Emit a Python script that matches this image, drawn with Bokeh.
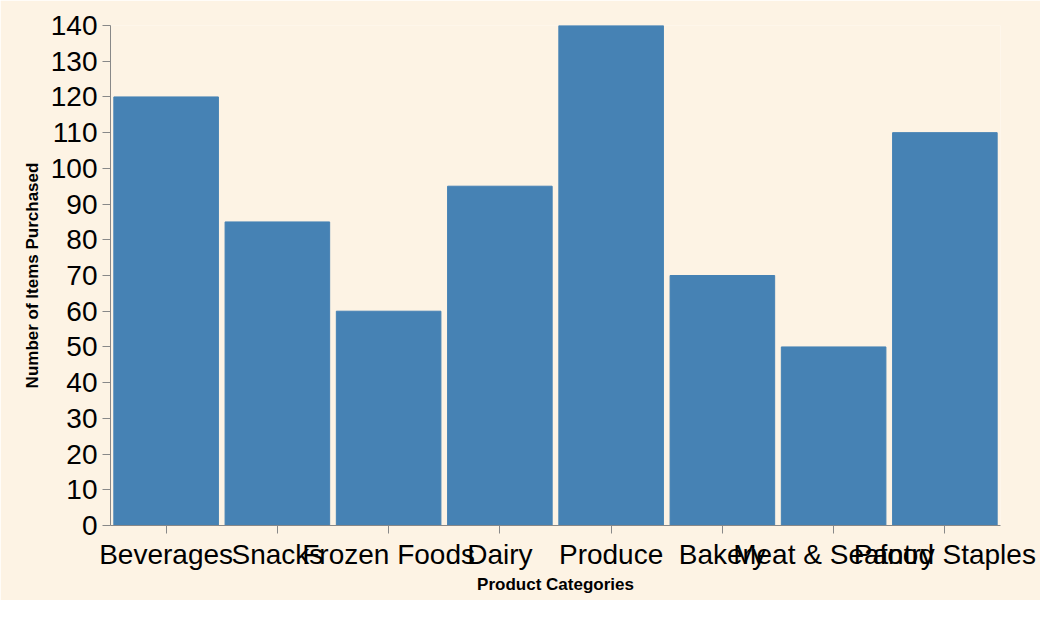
from bokeh.plotting import figure
from bokeh.models import FactorRange, Range1d, SingleIntervalTicker
from bokeh.embed import file_html
from bokeh.resources import INLINE

categories = ["Beverages", "Snacks", "Frozen Foods", "Dairy", "Produce", "Bakery", "Meat & Seafood", "Pantry Staples"]
values = [120, 85, 60, 95, 140, 70, 50, 110]

bg = "#fdf3e4"
p = figure(width=1040, height=600, x_range=FactorRange(*categories, range_padding=0),
           y_range=Range1d(0, 140), output_backend="svg", toolbar_location=None,
           min_border_left=110, min_border_right=40, min_border_top=25, min_border_bottom=75)
p.vbar(x=categories, top=values, width=0.94, color="#4682b4")
p.background_fill_color = bg
p.border_fill_color = bg
p.outline_line_color = None
p.grid.visible = False
p.yaxis.ticker = SingleIntervalTicker(interval=10)
for ax in [p.xaxis[0], p.yaxis[0]]:
    ax.axis_line_color = "#888888"
    ax.major_tick_line_color = "#888888"
    ax.major_tick_out = 8
    ax.major_tick_in = 0
    ax.minor_tick_line_color = None
    ax.major_label_text_font = "Liberation Sans"
    ax.major_label_text_font_size = "28px"
    ax.major_label_text_color = "#000000"
    ax.axis_label_text_font = "Liberation Sans"
    ax.axis_label_text_font_size = "17px"
    ax.axis_label_text_font_style = "bold"
    ax.axis_label_text_color = "#000000"
p.xaxis.axis_label = "Product Categories"
p.yaxis.axis_label = "Number of Items Purchased"
p.xaxis.major_label_orientation = "horizontal"
p.xaxis.axis_label_standoff = 2
p.yaxis.axis_label_standoff = 6

open("out.html", "w").write(file_html(p, INLINE))
